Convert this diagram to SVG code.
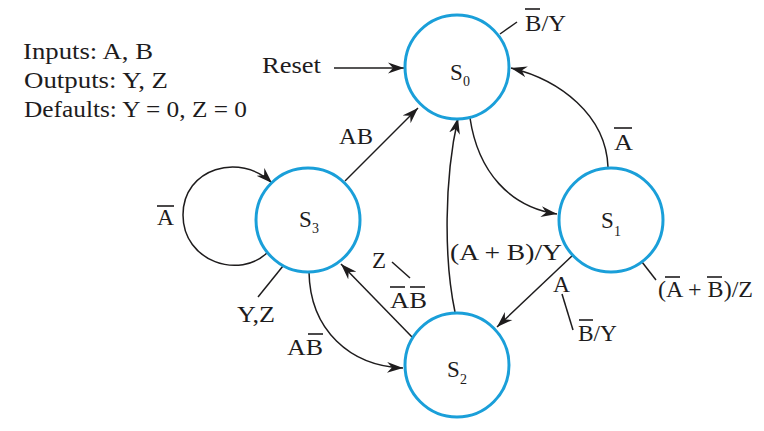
<svg xmlns="http://www.w3.org/2000/svg" width="764" height="431" viewBox="0 0 764 431">
<defs>
<style>
.n{fill:#fff;stroke:#1a9fd9;stroke-width:3}
.t{font-family:"Liberation Serif","Times New Roman",serif;font-size:23px;fill:#1e1c1d}
.s{font-family:"Liberation Serif","Times New Roman",serif;font-size:14px;fill:#1e1c1d}
.c{fill:none;stroke:#1e1c1d;stroke-width:1.5}
.a{marker-end:url(#ah)}
.b{stroke:#1e1c1d;stroke-width:1.6}
</style>
<marker id="ah" markerUnits="userSpaceOnUse" markerWidth="18" markerHeight="12" refX="16" refY="6" orient="auto">
<path d="M0,0.5 L16,6 L0,11.5 L5,6 z" fill="#1e1c1d"/>
</marker>
</defs>
<rect width="764" height="431" fill="#fff"/>
<g id="legend">
<text class="t" x="23" y="59" textLength="130" lengthAdjust="spacingAndGlyphs">Inputs:  A, B</text>
<text class="t" x="24" y="88" textLength="144" lengthAdjust="spacingAndGlyphs">Outputs:  Y, Z</text>
<text class="t" x="24" y="117" textLength="223" lengthAdjust="spacingAndGlyphs">Defaults: Y = 0, Z = 0</text>
</g>
<g id="connectors">
<path class="c a" d="M334,68 L404,68"/>
<path class="c a" d="M345,181 L418,108"/>
<path class="c a" d="M608,167 C606,115 560,80 511,68"/>
<path class="c a" d="M470,118 C478,172 510,207 557,214"/>
<path class="c a" d="M455,312 C444,260 444,180 458,118"/>
<path class="c a" d="M573,255 L497,327"/>
<path class="c a" d="M412,337 L341,264"/>
<path class="c a" d="M309,272 C310,330 350,366 403,368"/>
<path class="c a" d="M268,252 C240,280 183,262 183,215 C183,168 240,152 272,183"/>
<line class="c" x1="500" y1="34" x2="517" y2="22"/>
<line class="c" x1="283" y1="266" x2="258" y2="297"/>
<line class="c" x1="392" y1="262" x2="410" y2="278"/>
<line class="c" x1="562" y1="294" x2="573" y2="330"/>
<line class="c" x1="642" y1="262" x2="656" y2="280"/>
</g>
<g id="S0">
<circle class="n" cx="457" cy="67" r="52"/>
<text class="t" x="450" y="80">S</text><text class="s" x="463" y="86">0</text>
</g>
<g id="S1">
<circle class="n" cx="611" cy="220" r="52"/>
<text class="t" x="601" y="228">S</text><text class="s" x="614" y="236">1</text>
</g>
<g id="S2">
<circle class="n" cx="457" cy="365" r="52"/>
<text class="t" x="447" y="377">S</text><text class="s" x="460" y="384">2</text>
</g>
<g id="S3">
<circle class="n" cx="308" cy="220" r="52"/>
<text class="t" x="299" y="227">S</text><text class="s" x="312" y="233">3</text>
</g>
<g id="labels">
<text class="t" x="262" y="73" textLength="59" lengthAdjust="spacingAndGlyphs">Reset</text>
<text class="t" x="525" y="31" textLength="41" lengthAdjust="spacingAndGlyphs">B/Y</text>
<line class="b" x1="525" y1="9" x2="540" y2="9"/>
<text class="t" x="339" y="144" textLength="34" lengthAdjust="spacingAndGlyphs">AB</text>
<text class="t" x="614" y="150" textLength="19" lengthAdjust="spacingAndGlyphs">A</text>
<line class="b" x1="614" y1="128" x2="632" y2="128"/>
<text class="t" x="157" y="225" textLength="17" lengthAdjust="spacingAndGlyphs">A</text>
<line class="b" x1="157" y1="206" x2="174" y2="206"/>
<text class="t" x="237" y="322" textLength="38" lengthAdjust="spacingAndGlyphs">Y,Z</text>
<text class="t" x="287" y="355" textLength="36" lengthAdjust="spacingAndGlyphs">AB</text>
<line class="b" x1="308" y1="334" x2="323" y2="334"/>
<text class="t" x="372" y="268">Z</text>
<text class="t" x="390" y="308" textLength="37" lengthAdjust="spacingAndGlyphs">AB</text>
<line class="b" x1="390" y1="287" x2="405" y2="287"/>
<line class="b" x1="410" y1="287" x2="425" y2="287"/>
<text class="t" x="450" y="260" textLength="112" lengthAdjust="spacingAndGlyphs">(A + B)/Y</text>
<text class="t" x="553" y="292" textLength="17" lengthAdjust="spacingAndGlyphs">A</text>
<text class="t" x="578" y="341" textLength="39" lengthAdjust="spacingAndGlyphs">B/Y</text>
<line class="b" x1="579" y1="320" x2="593" y2="320"/>
<text class="t" x="658" y="297" textLength="95" lengthAdjust="spacingAndGlyphs">(A + B)/Z</text>
<line class="b" x1="665" y1="277" x2="680" y2="277"/>
<line class="b" x1="707" y1="277" x2="722" y2="277"/>
</g>
</svg>
